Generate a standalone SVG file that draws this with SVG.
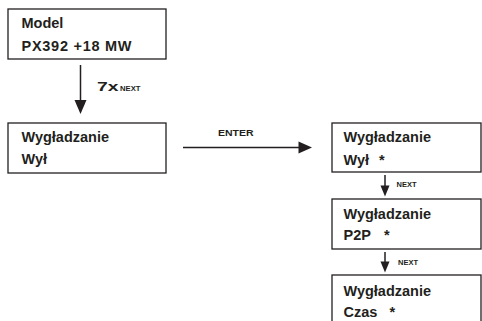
<svg xmlns="http://www.w3.org/2000/svg" width="482" height="321" viewBox="0 0 482 321">
<defs>
<style>
.box{fill:#fff;stroke:#231f20;stroke-width:1.3}
.t{font-family:"Liberation Sans",Arial,sans-serif;font-weight:bold;font-size:14.5px;fill:#231f20}
.s{font-family:"Liberation Sans",Arial,sans-serif;font-weight:bold;fill:#231f20}
.ln{stroke:#231f20;stroke-width:1.5;fill:none}
.hd{fill:#231f20}
</style>
</defs>
<rect width="482" height="321" fill="#fff"/>
<g id="connectors">
<line class="ln" x1="80.5" y1="65" x2="80.5" y2="101"/>
<polygon class="hd" points="74.5,100 86.5,100 80.5,114"/>
<text class="s" x="97" y="90.5" font-size="12.5" textLength="21.5" lengthAdjust="spacingAndGlyphs">7x</text>
<text class="s" x="120" y="90.5" font-size="6.6" textLength="20.5" lengthAdjust="spacingAndGlyphs">NEXT</text>
<line class="ln" x1="183" y1="147.5" x2="300" y2="147.5"/>
<polygon class="hd" points="298.5,141.5 298.5,153.5 312,147.5"/>
<text class="s" x="218" y="135.5" font-size="8.5" textLength="35.5" lengthAdjust="spacingAndGlyphs">ENTER</text>
<line class="ln" x1="385" y1="175" x2="385" y2="187"/>
<polygon class="hd" points="380.5,185.5 389.5,185.5 385,196.5"/>
<text class="s" x="396.5" y="187" font-size="6.8" textLength="20" lengthAdjust="spacingAndGlyphs">NEXT</text>
<line class="ln" x1="385" y1="252" x2="385" y2="263"/>
<polygon class="hd" points="380.5,261.5 389.5,261.5 385,272.5"/>
<text class="s" x="398" y="265" font-size="6.8" textLength="20" lengthAdjust="spacingAndGlyphs">NEXT</text>
</g>
<g id="node-model">
<rect class="box" x="8" y="9" width="158" height="50"/>
<text class="t" x="21.5" y="28">Model</text>
<text class="t" x="21.5" y="50.5" textLength="110" lengthAdjust="spacing">PX392 +18 MW</text>
</g>
<g id="node-wyl">
<rect class="box" x="8" y="123" width="158" height="50"/>
<text class="t" x="21.5" y="141.5">Wygładzanie</text>
<text class="t" x="21.5" y="163.5">Wył</text>
</g>
<g id="node-wyl-star">
<rect class="box" x="332" y="123" width="149" height="49"/>
<text class="t" x="343.5" y="142">Wygładzanie</text>
<text class="t" x="343.5" y="165">Wył<tspan x="379">*</tspan></text>
</g>
<g id="node-p2p">
<rect class="box" x="332" y="199" width="149" height="50"/>
<text class="t" x="343.5" y="218.5">Wygładzanie</text>
<text class="t" x="343.5" y="240">P2P<tspan x="384">*</tspan></text>
</g>
<g id="node-czas">
<rect class="box" x="332" y="275" width="149" height="60"/>
<text class="t" x="343.5" y="295.5">Wygładzanie</text>
<text class="t" x="343.5" y="317">Czas<tspan x="389.5">*</tspan></text>
</g>
</svg>
